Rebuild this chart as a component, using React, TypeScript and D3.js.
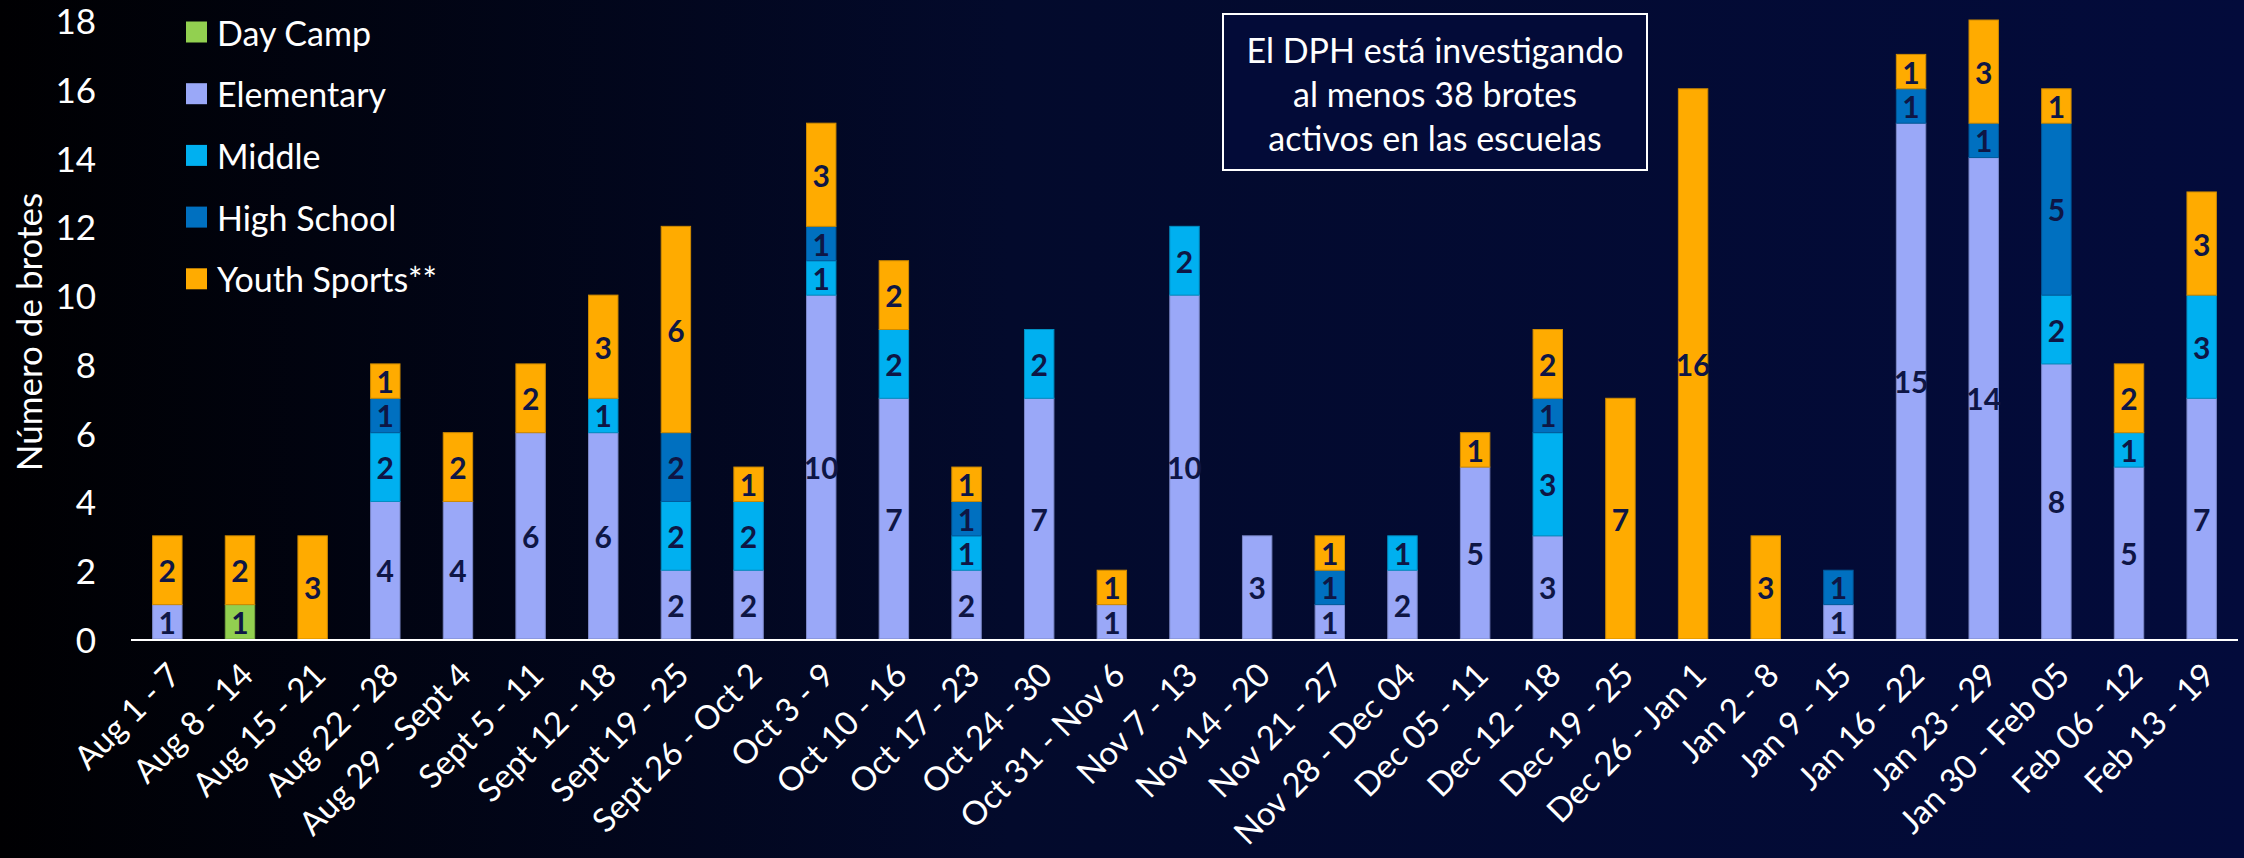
import React from 'react';
import * as d3 from 'd3';

const weeks = [
  'Aug 1 - 7', 'Aug 8 - 14', 'Aug 15 - 21', 'Aug 22 - 28', 'Aug 29 - Sept 4',
  'Sept 5 - 11', 'Sept 12 - 18', 'Sept 19 - 25', 'Sept 26 - Oct 2', 'Oct 3 - 9',
  'Oct 10 - 16', 'Oct 17 - 23', 'Oct 24 - 30', 'Oct 31 - Nov 6', 'Nov 7 - 13',
  'Nov 14 - 20', 'Nov 21 - 27', 'Nov 28 - Dec 04', 'Dec 05 - 11', 'Dec 12 - 18',
  'Dec 19 - 25', 'Dec 26 - Jan 1', 'Jan 2 - 8', 'Jan 9 - 15', 'Jan 16 - 22',
  'Jan 23 - 29', 'Jan 30 - Feb 05', 'Feb 06 - 12', 'Feb 13 - 19',
];

const dayCamp =    [0, 1, 0, 0, 0, 0, 0, 0, 0, 0, 0, 0, 0, 0, 0, 0, 0, 0, 0, 0, 0, 0, 0, 0, 0, 0, 0, 0, 0];
const elementary = [1, 0, 0, 4, 4, 6, 6, 2, 2, 10, 7, 2, 7, 1, 10, 3, 1, 2, 5, 3, 0, 0, 0, 1, 15, 14, 8, 5, 7];
const middle =     [0, 0, 0, 2, 0, 0, 1, 2, 2, 1, 2, 1, 2, 0, 2, 0, 0, 1, 0, 3, 0, 0, 0, 0, 0, 0, 2, 1, 3];
const highSchool = [0, 0, 0, 1, 0, 0, 0, 2, 0, 1, 0, 1, 0, 0, 0, 0, 1, 0, 0, 1, 0, 0, 0, 1, 1, 1, 5, 0, 0];
const youth =      [2, 2, 3, 1, 2, 2, 3, 6, 1, 3, 2, 1, 0, 1, 0, 0, 1, 0, 1, 2, 7, 16, 3, 0, 1, 3, 1, 2, 3];

const seriesNames = ['Day Camp', 'Elementary', 'Middle', 'High School', 'Youth Sports**'];
const seriesColors = ['#92D050', '#9AA8F8', '#00B0F0', '#0070C0', '#FFAB00'];
const yTicks = [0, 2, 4, 6, 8, 10, 12, 14, 16, 18];

const noteLines = ['El DPH está investigando', 'al menos 38 brotes', 'activos en las escuelas'];

const W = 2244;
const H = 858;
const FONT = 'Lato, "Open Sans", sans-serif';

export default function App() {
  const keys = seriesNames;
  const table = weeks.map((w, i) => ({
    week: w,
    'Day Camp': dayCamp[i],
    Elementary: elementary[i],
    Middle: middle[i],
    'High School': highSchool[i],
    'Youth Sports**': youth[i],
  }));
  const stacked = d3.stack<any>().keys(keys)(table);

  const x = d3.scaleBand().domain(weeks).range([131, 2238]).padding(0);
  const y = d3.scaleLinear().domain([0, 18]).range([639, 20]);
  const color = d3.scaleOrdinal<string>().domain(keys).range(seriesColors);
  const barW = x.step() * 0.405;

  return (
    <svg width={W} height={H} style={{ position: 'fixed', left: 0, top: 0, display: 'block' }}>
      <defs>
        <linearGradient id="bg" x1="0" y1="0" x2="1" y2="0">
          <stop offset="0" stopColor="#000002" />
          <stop offset="0.45" stopColor="#030a2c" />
          <stop offset="1" stopColor="#030b3b" />
        </linearGradient>
      </defs>
      <rect width={W} height={H} fill="url(#bg)" />

      {/* bars */}
      {stacked.map((s) => (
        <g key={s.key}>
          {s.map((d, i) => {
            const v = d[1] - d[0];
            if (!v) return null;
            const cx = (x(weeks[i]) as number) + x.bandwidth() / 2;
            const c = color(s.key);
            return (
              <g key={i}>
                <rect
                  x={cx - barW / 2}
                  y={y(d[1])}
                  width={barW}
                  height={y(d[0]) - y(d[1])}
                  fill={c}
                  stroke={d3.color(c)!.darker(0.6).formatHex()}
                  strokeWidth={1}
                />
                <text
                  x={cx}
                  y={(y(d[0]) + y(d[1])) / 2}
                  textAnchor="middle"
                  dominantBaseline="central"
                  fontFamily={FONT}
                  fontWeight="bold"
                  fontSize={30}
                  fill="#0e1645"
                >
                  {v}
                </text>
              </g>
            );
          })}
        </g>
      ))}

      {/* x axis */}
      <line x1={131} x2={2238} y1={y(0) + 1} y2={y(0) + 1} stroke="#ffffff" strokeWidth={2} />
      {weeks.map((w) => {
        const cx = (x(w) as number) + x.bandwidth() / 2;
        return (
          <text
            key={w}
            transform={`translate(${cx + 6},${668}) rotate(-45)`}
            textAnchor="end"
            dominantBaseline="central"
            fontFamily={FONT}
            fontSize={33}
            fill="#ffffff"
          >
            {w}
          </text>
        );
      })}

      {/* y axis */}
      {yTicks.map((t) => (
        <text
          key={t}
          x={96}
          y={y(t)}
          textAnchor="end"
          dominantBaseline="central"
          fontFamily={FONT}
          fontSize={35}
          fill="#ffffff"
        >
          {t}
        </text>
      ))}
      <text
        transform={`translate(28,${332}) rotate(-90)`}
        textAnchor="middle"
        dominantBaseline="central"
        fontFamily={FONT}
        fontSize={35}
        fill="#ffffff"
      >
        Número de brotes
      </text>

      {/* legend */}
      {seriesNames.map((n, i) => (
        <g key={n} transform={`translate(186,${32 + i * 61.7})`}>
          <rect x={0} y={-10.5} width={21} height={21} fill={seriesColors[i]} />
          <text x={31} y={0} dominantBaseline="central" fontFamily={FONT} fontSize={34} fill="#ffffff">
            {n}
          </text>
        </g>
      ))}

      {/* note box */}
      <rect x={1223} y={14} width={424} height={156} fill="#030b38" stroke="#ffffff" strokeWidth={2} />
      {noteLines.map((l, i) => (
        <text
          key={l}
          x={1435}
          y={49 + i * 44}
          textAnchor="middle"
          dominantBaseline="central"
          fontFamily={FONT}
          fontSize={34}
          fill="#ffffff"
        >
          {l}
        </text>
      ))}
    </svg>
  );
}
